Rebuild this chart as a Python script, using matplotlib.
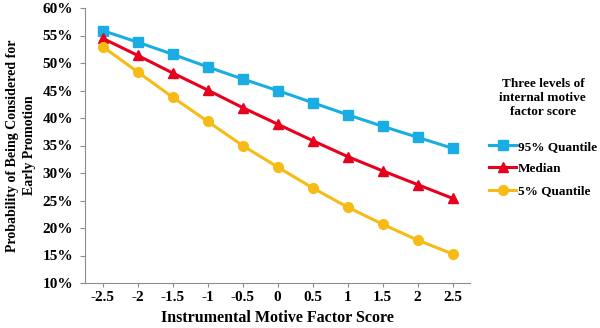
import matplotlib
matplotlib.use("Agg")
import matplotlib.pyplot as plt
from matplotlib.ticker import PercentFormatter

categories = ["-2.5", "-2", "-1.5", "-1", "-0.5", "0", "0.5", "1", "1.5", "2", "2.5"]
q95 = [55.9, 53.8, 51.6, 49.3, 47.1, 45.0, 42.8, 40.6, 38.5, 36.5, 34.5]
median = [54.5, 51.4, 48.2, 45.1, 41.9, 38.9, 35.9, 33.0, 30.4, 27.9, 25.4]
q05 = [53.0, 48.4, 43.8, 39.4, 35.0, 31.1, 27.3, 23.8, 20.7, 17.8, 15.3]

plt.rcParams['font.family'] = ['Liberation Serif', 'DejaVu Serif']
plt.rcParams['font.weight'] = 'bold'

fig = plt.figure(figsize=(6, 3.28), dpi=100)
ax = fig.add_axes([85/600, 1-283/328, (470-85)/600, (283-8)/328])

x = list(range(len(categories)))
ax.plot(x, q95, color='#1AADE3', lw=2.2, marker='s', ms=6.5, label='95% Quantile')
ax.plot(x, median, color='#E8001C', lw=2.2, marker='^', ms=7, label='Median')
ax.plot(x, q05, color='#F7BB16', lw=2.2, marker='o', ms=7, label='5% Quantile')

ax.set_xlim(-0.5, len(categories) - 0.5)
ax.set_ylim(10, 60)
ax.set_yticks(range(10, 61, 5))
ax.yaxis.set_major_formatter(PercentFormatter(decimals=0))
ax.set_xticks(x)
ax.set_xticklabels(categories)

for s in ['top', 'right']:
    ax.spines[s].set_visible(False)
for s in ['left', 'bottom']:
    ax.spines[s].set_color('#8c8c8c')
    ax.spines[s].set_linewidth(0.8)
ax.tick_params(axis='both', colors='#8c8c8c', width=0.8, labelcolor='black', labelsize=11)
ax.tick_params(axis='x', length=3, pad=3)
ax.tick_params(axis='y', length=3.5, pad=5)
for lab in ax.get_xticklabels() + ax.get_yticklabels():
    lab.set_fontweight('bold')

ax.set_xlabel('Instrumental Motive Factor Score', fontsize=11.5, fontweight='bold', labelpad=4)
ax.set_ylabel('Probability of Being Considered for\nEarly Promotion', fontsize=10, fontweight='bold', labelpad=5, linespacing=1.35)

leg = ax.legend(loc='upper left', bbox_to_anchor=(1.035, 0.765), frameon=False,
                title='Three levels of\ninternal motive\nfactor score',
                prop={'weight': 'bold', 'size': 9.5}, handlelength=2.1, handletextpad=0.1,
                labelspacing=0.75, borderaxespad=0)
leg.get_title().set_fontweight('bold')
leg.get_title().set_fontsize(9.5)
leg.get_title().set_multialignment('center')
leg.get_title().set_linespacing(1.25)
leg._legend_box.sep = 16

fig.savefig('out.png', dpi=100)
